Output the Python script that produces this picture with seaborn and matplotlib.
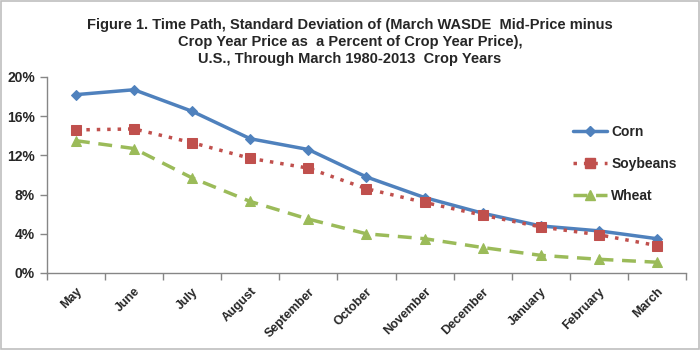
import matplotlib
matplotlib.use("Agg")
import matplotlib.pyplot as plt
import seaborn as sns
import pandas as pd
from matplotlib.lines import Line2D

months = ["May", "June", "July", "August", "September", "October", "November",
          "December", "January", "February", "March"]
corn = [18.2, 18.7, 16.5, 13.7, 12.6, 9.8, 7.7, 6.1, 4.8, 4.3, 3.5]
soybeans = [14.6, 14.7, 13.3, 11.7, 10.7, 8.6, 7.2, 5.9, 4.7, 3.9, 2.8]
wheat = [13.5, 12.7, 9.7, 7.3, 5.5, 4.0, 3.5, 2.6, 1.8, 1.4, 1.1]
yticks = [0, 4, 8, 12, 16, 20]
title = ("Figure 1. Time Path, Standard Deviation of (March WASDE  Mid-Price minus\n"
         "Crop Year Price as  a Percent of Crop Year Price),\n"
         "U.S., Through March 1980-2013  Crop Years")

sns.set_theme(style="white")
plt.rcParams['font.family'] = ['Liberation Sans', 'DejaVu Sans']

fig = plt.figure(figsize=(7, 3.5), dpi=100)
fig.patches.append(plt.Rectangle((0.0015, 0.003), 0.997, 0.994, transform=fig.transFigure,
                                 fill=False, edgecolor="#BFBFBF", linewidth=1.2))
ax = fig.add_axes([0.067, 0.22, 0.913, 0.56])

series = [
    ("Corn", corn, "#4F81BD", "-", "D", 5),
    ("Soybeans", soybeans, "#C0504D", (0, (1, 2)), "s", 7),
    ("Wheat", wheat, "#9BBB59", (0, (4, 2.5)), "^", 7),
]
x = list(range(len(months)))
handles = []
for name, vals, col, ls, mk, ms in series:
    df = pd.DataFrame({"x": x, "y": vals})
    sns.lineplot(data=df, x="x", y="y", ax=ax, color=col, linestyle=ls, linewidth=2.5,
                 marker=mk, markersize=ms, markeredgecolor=col, markerfacecolor=col)
    handles.append(Line2D([0], [0], color=col, linestyle=ls, linewidth=2.5,
                          marker=mk, markersize=ms, markeredgecolor=col, markerfacecolor=col))

ax.set_xlim(-0.5, len(months) - 0.5)
ax.set_ylim(0, 20)
ax.set_yticks(yticks)
ax.set_yticklabels([f"{v}%" for v in yticks], fontsize=10, fontweight="bold")
ax.set_xticks(x)
ax.set_xticklabels(months, rotation=45, ha="right", rotation_mode="anchor",
                   fontsize=9, fontweight="bold")
ax.set_xticks([i - 0.5 for i in range(len(months) + 1)], minor=True)
ax.tick_params(axis="x", which="major", length=0, pad=9)
ax.tick_params(axis="x", which="minor", length=5, color="#868686", width=1, bottom=True)
ax.tick_params(axis="y", length=5, color="#868686", width=1, left=True)
ax.set_xlabel("")
ax.set_ylabel("")
for s in ["top", "right"]:
    ax.spines[s].set_visible(False)
for s in ["left", "bottom"]:
    ax.spines[s].set_color("#868686")
    ax.spines[s].set_linewidth(1)

fig.text(0.5, 0.948, title, ha="center", va="top", fontsize=10.5, fontweight="bold",
         linespacing=1.25)
fig.legend(handles, [s[0] for s in series], loc="center left", bbox_to_anchor=(0.80, 0.531),
           frameon=False, handlelength=2.5, handletextpad=0.3, labelspacing=1.3,
           prop={"weight": "bold", "size": 10})

fig.savefig("out.png", dpi=100)
